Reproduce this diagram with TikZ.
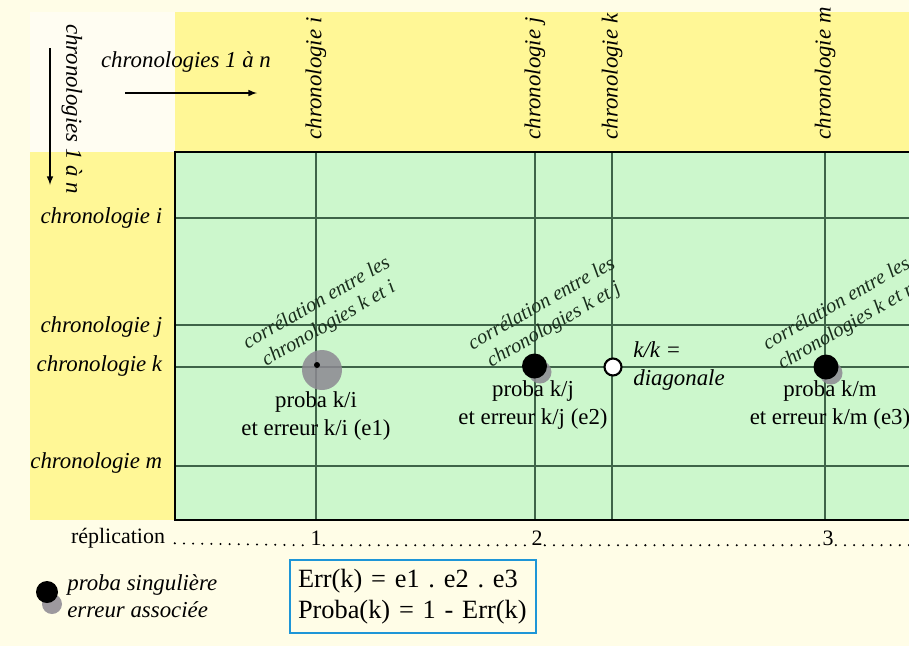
\documentclass[tikz,border=0pt]{standalone}
\usepackage{fontspec}
\setmainfont{Liberation Serif}
\frenchspacing
\usetikzlibrary{positioning}
\definecolor{cream}{RGB}{255,253,231}
\definecolor{pale}{RGB}{255,253,242}
\definecolor{band}{RGB}{255,247,150}
\definecolor{field}{RGB}{204,247,204}
\definecolor{gridline}{RGB}{62,100,72}
\definecolor{shade}{RGB}{140,136,146}
\definecolor{frameblue}{RGB}{30,150,215}
\tikzstyle{top chrono}=[rotate=90, anchor=west, inner sep=0.5mm,
font=\fontsize{13}{15}\selectfont\itshape]
\tikzstyle{left chrono}=[anchor=east, inner sep=0.5mm,
font=\fontsize{13}{15}\selectfont\itshape]
\tikzstyle{corr text}=[rotate=30, align=center, inner sep=0mm,
text={rgb,255: red,25; green,45; blue,28}, font=\fontsize{11.6}{13.8}\selectfont\itshape]
\tikzstyle{proba text}=[align=center, inner sep=0mm, font=\fontsize{13}{15.5}\selectfont]
\tikzstyle{black dot}=[fill=black, draw=none, shape=circle, inner sep=0mm]
\tikzstyle{shadow dot}=[fill=shade, draw=none, shape=circle, inner sep=0mm, opacity=0.85]
\tikzstyle{rep text}=[inner sep=0.4mm, font=\fontsize{12.5}{14}\selectfont]
\tikzstyle{grid edge}=[-, draw=gridline, line width=0.6pt]
\tikzstyle{axis arrow}=[->, >=latex, draw=black, line width=0.7pt]
\tikzstyle{leader}=[-, line width=1.3pt, line cap=round, dash pattern=on 0pt off 5.2pt]

\begin{document}
\begin{tikzpicture}
            \useasboundingbox (0, 0) rectangle (18.18, -12.92);
            \fill [cream] (0, 0) rectangle (18.18, -12.92);
            \fill [pale] (0.6, -0.24) rectangle (3.5, -3.04);
            \fill [band] (3.5, -0.24) rectangle (18.18, -3.04);
            \fill [band] (0.6, -3.04) rectangle (3.5, -10.4);
            \fill [field] (3.5, -3.04) rectangle (18.18, -10.4);

            \foreach \x in {6.32, 10.7, 12.24, 16.5}
                \draw [style=grid edge] (\x, -3.04) -- (\x, -10.4);
            \foreach \y in {-4.36, -6.5, -7.34, -9.32}
                \draw [style=grid edge] (3.5, \y) -- (18.18, \y);
            \draw [line width=0.8pt] (18.18, -3.04) -- (3.5, -3.04)
                -- (3.5, -10.4) -- (18.18, -10.4);

            \node [style=top chrono] (1) at (6.32, -2.84) {chronologie i};
            \node [style=top chrono] (2) at (10.7, -2.84) {chronologie j};
            \node [style=top chrono] (3) at (12.24, -2.84) {chronologie k};
            \node [style=top chrono] (4) at (16.5, -2.84) {chronologie m};

            \node [style=left chrono] (5) at (3.3, -4.36) {chronologie i};
            \node [style=left chrono] (6) at (3.3, -6.54) {chronologie j};
            \node [style=left chrono] (7) at (3.3, -7.32) {chronologie k};
            \node [style=left chrono] (8) at (3.3, -9.26) {chronologie m};

            \node [font=\fontsize{13}{15}\selectfont\itshape] (9) at (3.72, -1.24) {chronologies 1 à n};
            \node [font=\fontsize{13}{15}\selectfont\itshape, rotate=-90] (10) at (1.44, -2.18) {chronologies 1 à n};
            \coordinate (11) at (2.5, -1.86);
            \coordinate (12) at (5.14, -1.86);
            \coordinate (13) at (1.0, -0.96);
            \coordinate (14) at (1.0, -3.7);
            \draw [style=axis arrow] (11) to (12);
            \draw [style=axis arrow] (13) to (14);

            \node [style=shadow dot, minimum size=0.8cm] (15) at (6.44, -7.4) {};
            \node [style=black dot, minimum size=0.12cm] (16) at (6.34, -7.3) {};
            \node [style=shadow dot, minimum size=0.46cm] (17) at (10.8, -7.44) {};
            \node [style=black dot, minimum size=0.5cm] (18) at (10.69, -7.32) {};
            \node [fill=white, draw=black, shape=circle, line width=1.2pt,
                inner sep=0mm, minimum size=0.34cm] (19) at (12.26, -7.34) {};
            \node [style=shadow dot, minimum size=0.46cm] (20) at (16.62, -7.46) {};
            \node [style=black dot, minimum size=0.5cm] (21) at (16.52, -7.34) {};

            \node [style=corr text] (22) at (6.46, -6.28) {corrélation entre les\\chronologies k et i};
            \node [style=corr text] (23) at (10.96, -6.3) {corrélation entre les\\chronologies k et j};
            \node [style=corr text] (24) at (16.86, -6.3) {corrélation entre les\\chronologies k et m};

            \node [style=proba text] (25) at (6.32, -8.32) {proba k/i\\et erreur k/i (e1)};
            \node [style=proba text] (26) at (10.66, -8.1) {proba k/j\\et erreur k/j (e2)};
            \node [style=proba text] (27) at (16.6, -8.1) {proba k/m\\et erreur k/m (e3)};
            \node [align=left, anchor=west, inner sep=0mm,
                font=\fontsize{13}{15.5}\selectfont\itshape] (28) at (12.66, -7.32) {k/k =\\diagonale};

            \node [style=rep text] (29) at (2.36, -10.76) {réplication};
            \node [style=rep text] (30) at (6.32, -10.76) {1};
            \node [style=rep text] (31) at (10.74, -10.76) {2};
            \node [style=rep text] (32) at (16.56, -10.76) {3};
            \coordinate (33) at (18.4, -10.76);
            \draw [style=leader] ([xshift=1.5mm]29.base east) to (30.base west);
            \draw [style=leader] (30.base east) to (31.base west);
            \draw [style=leader] (31.base east) to (32.base west);
            \draw [style=leader] (32.base east) to (33 |- 32.base);

            \node [style=shadow dot, minimum size=0.4cm] (34) at (1.04, -12.08) {};
            \node [style=black dot, minimum size=0.44cm] (35) at (0.94, -11.84) {};
            \node [align=left, anchor=west, inner sep=0mm,
                font=\fontsize{13}{15.5}\selectfont\itshape] (36) at (1.34, -11.93) {proba singulière\\erreur associée};

            \node [draw=frameblue, line width=1.4pt, align=left, inner xsep=0.16cm,
                text width=4.6cm, minimum height=1.46cm,
                font=\fontsize{15}{17.6}\selectfont] (37) at (8.26, -11.93) {Err(k) = e1 . e2 . e3\\Proba(k) = 1 - Err(k)};
    \end{tikzpicture}
\end{document}
